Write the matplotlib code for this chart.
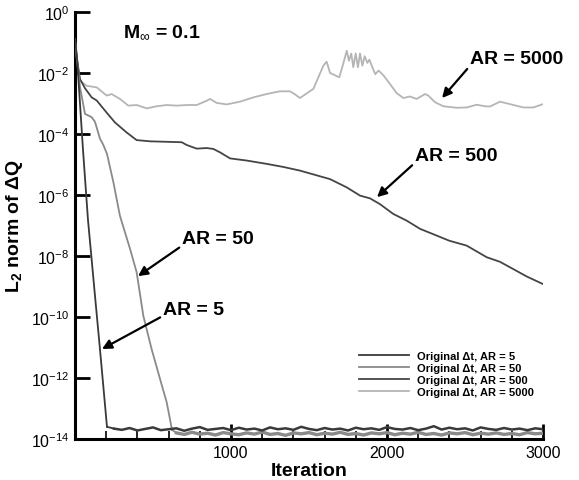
import numpy as np
import matplotlib
matplotlib.use("Agg")
import matplotlib.pyplot as plt
from matplotlib.ticker import FixedLocator, MultipleLocator, NullLocator, LogFormatterSciNotation

plt.rcParams['font.family'] = ['Liberation Sans', 'DejaVu Sans']
plt.rcParams['mathtext.fontset'] = 'custom'
plt.rcParams['mathtext.rm'] = 'Liberation Sans'
plt.rcParams['mathtext.bf'] = 'Liberation Sans:bold'
plt.rcParams['mathtext.it'] = 'Liberation Sans:italic'

# ---- data (iteration, log10 of L2 norm) ----
ar5_it = [0, 13, 51, 83, 128, 160, 205]
ar5_lg = [-0.9, -1.5, -4.5, -6.8, -9.3, -11.05, -13.6]
ar5_floor_it = list(range(250, 3001, 50))
ar5_floor_lg = [-13.66, -13.70, -13.64, -13.72, -13.67, -13.62, -13.71, -13.68, -13.65, -13.73,
                -13.66, -13.61, -13.70, -13.67, -13.64, -13.71, -13.63, -13.69, -13.66, -13.72,
                -13.62, -13.68, -13.65, -13.70, -13.60, -13.67, -13.71, -13.64, -13.69, -13.66,
                -13.72, -13.63, -13.68, -13.65, -13.70, -13.61, -13.67, -13.69, -13.64, -13.71,
                -13.66, -13.58, -13.69, -13.63, -13.68, -13.65, -13.72, -13.62, -13.67, -13.70,
                -13.64, -13.69, -13.66, -13.71, -13.65, -13.68]

ar50_it = [0, 11, 32, 64, 107, 128, 160, 181, 205, 246, 288, 353, 395, 438, 491, 545, 588, 622]
ar50_lg = [-0.9, -1.5, -2.46, -3.34, -3.45, -3.6, -4.15, -4.35, -4.65, -5.58, -6.68, -7.77,
           -8.53, -9.96, -11.05, -12.03, -12.8, -13.7]
ar50_floor_it = list(range(650, 3001, 50))
ar50_floor_lg = [-13.80, -13.85, -13.78, -13.84, -13.81, -13.87, -13.79, -13.83, -13.86, -13.80,
                 -13.84, -13.77, -13.85, -13.82, -13.88, -13.80, -13.83, -13.79, -13.86, -13.81,
                 -13.84, -13.78, -13.85, -13.82, -13.87, -13.80, -13.83, -13.79, -13.86, -13.81,
                 -13.84, -13.78, -13.85, -13.82, -13.87, -13.80, -13.83, -13.79, -13.86, -13.81,
                 -13.84, -13.80, -13.85, -13.82, -13.86, -13.79, -13.83, -13.81]

ar500_it = [0, 11, 32, 64, 107, 139, 171, 203, 256, 331, 395, 481, 684, 716, 780, 844, 887, 929,
            994, 1100, 1229, 1335, 1442, 1635, 1742, 1827, 1891, 1955, 2040, 2126, 2212, 2318,
            2400, 2511, 2639, 2724, 2810, 2895, 3000]
ar500_lg = [-0.9, -1.5, -2.2, -2.5, -2.8, -2.9, -3.1, -3.3, -3.62, -3.95, -4.2, -4.24, -4.27,
            -4.36, -4.48, -4.46, -4.49, -4.6, -4.8, -4.87, -4.98, -5.08, -5.2, -5.48, -5.75,
            -6.02, -6.11, -6.3, -6.62, -6.84, -7.11, -7.33, -7.5, -7.66, -8.04, -8.19, -8.43,
            -8.67, -8.92]

ar5000_it = [0, 11, 32, 75, 139, 203, 235, 288, 342, 395, 460, 524, 588, 652, 716, 780, 844, 865,
             908, 972, 1058, 1143, 1228, 1314, 1378, 1410, 1442, 1528, 1592, 1613, 1635, 1694,
             1716, 1742, 1756, 1771, 1784, 1799, 1814, 1827, 1842, 1857, 1874, 1887, 1902, 1925,
             1946, 1976, 2019, 2062, 2105, 2147, 2190, 2244, 2265, 2308, 2361, 2447, 2511, 2575,
             2628, 2660, 2724, 2788, 2874, 2938, 3000]
ar5000_lg = [-0.9, -1.5, -2.25, -2.42, -2.47, -2.74, -2.69, -2.85, -3.07, -3.05, -3.16, -3.09,
             -3.05, -3.07, -3.05, -3.05, -2.91, -2.85, -2.98, -3.03, -2.94, -2.8, -2.69, -2.6,
             -2.6, -2.7, -2.82, -2.52, -1.76, -1.63, -2.0, -2.14, -1.76, -1.27, -1.6, -1.36,
             -1.81, -1.36, -1.81, -1.36, -1.76, -1.45, -1.67, -1.56, -1.76, -2.04, -1.92, -2.07,
             -2.36, -2.66, -2.82, -2.77, -2.85, -2.69, -2.74, -2.96, -3.09, -3.14, -3.13, -3.04,
             -3.09, -3.1, -2.94, -3.02, -3.13, -3.13, -3.02]

labels = ['Original \u0394t, AR = 5', 'Original \u0394t, AR = 50',
          'Original \u0394t, AR = 500', 'Original \u0394t, AR = 5000']
colors = ['#3a3a3a', '#8a8a8a', '#454545', '#b5b5b5']

# annotations: (text, text position, arrow tip) in data coords (iteration, log10)
ann_text = ['AR = 5000', 'AR = 500', 'AR = 50', 'AR = 5']
ann_text_pos = [(2532, -1.54), (2179, -4.72), (686, -7.44), (564, -9.74)]
ann_tip = [(2353, -2.82), (1936, -6.07), (404, -8.66), (173, -11.05)]

fig = plt.figure(figsize=(5.79, 4.81), dpi=100)
ax = fig.add_axes([75/579, 41/481, 468/579, 427/481])

p = lambda v: 10.0 ** np.asarray(v)

ax.plot(ar5000_it, p(ar5000_lg), color=colors[3], lw=1.3, label=labels[3], zorder=2)
ax.plot(ar500_it, p(ar500_lg), color=colors[2], lw=1.3, label=labels[2], zorder=3)
ax.plot(ar50_it, p(ar50_lg), color=colors[1], lw=1.3, label=labels[1], zorder=3)
ax.plot(ar50_floor_it, p(ar50_floor_lg), color=colors[1], lw=2.4, zorder=3)
ax.plot([ar50_it[-1], ar50_floor_it[0]], p([ar50_lg[-1], ar50_floor_lg[0]]), color=colors[1], lw=1.3, zorder=3)
ax.plot(ar5_it, p(ar5_lg), color=colors[0], lw=1.3, label=labels[0], zorder=4)
ax.plot(ar5_floor_it, p(ar5_floor_lg), color=colors[0], lw=1.8, zorder=4)
ax.plot([ar5_it[-1], ar5_floor_it[0]], p([ar5_lg[-1], ar5_floor_lg[0]]), color=colors[0], lw=1.3, zorder=4)

ax.set_yscale('log')
ax.set_xlim(0, 3000)
ax.set_ylim(1e-14, 1)

ax.xaxis.set_major_locator(FixedLocator([1000, 2000, 3000]))
ax.xaxis.set_minor_locator(MultipleLocator(200))
ax.yaxis.set_major_locator(FixedLocator([10.0 ** k for k in range(-14, 1, 2)]))
ax.yaxis.set_major_formatter(LogFormatterSciNotation())
ax.yaxis.set_minor_locator(NullLocator())

for s in ['top', 'right']:
    ax.spines[s].set_visible(False)
for s in ['left', 'bottom']:
    ax.spines[s].set_linewidth(2.2)

ax.tick_params(axis='both', which='major', direction='in', length=11, width=2, labelsize=11.5, pad=4)
ax.tick_params(axis='x', which='minor', direction='in', length=6, width=1.2)

ax.set_xlabel('Iteration', fontsize=14, fontweight='bold', labelpad=2)
ax.set_ylabel(r'L$_\mathbf{2}$ norm of $\mathbf{\Delta}$Q', fontsize=14, fontweight='bold', labelpad=4)

ax.text(0.103, 0.955, r'M$_{\infty}$ = 0.1', transform=ax.transAxes, fontsize=14,
        fontweight='bold', va='center', ha='left')

for t, tp, tip in zip(ann_text, ann_text_pos, ann_tip):
    ax.annotate(t, xy=(tip[0], 10 ** tip[1]), xytext=(tp[0], 10 ** tp[1]),
                fontsize=14, fontweight='bold', ha='left', va='center',
                arrowprops=dict(arrowstyle='-|>', color='black', lw=1.6,
                                mutation_scale=14, shrinkA=0, shrinkB=0,
                                relpos=(0, 0.1)))

handles, labs = ax.get_legend_handles_labels()
order = [labs.index(l) for l in labels]
leg = ax.legend([handles[i] for i in order], [labs[i] for i in order],
                loc='upper left', bbox_to_anchor=(0.606, 0.207), frameon=False,
                prop={'weight': 'bold', 'size': 8}, handlelength=4.5,
                handletextpad=0.8, labelspacing=0.2, borderpad=0, borderaxespad=0)

fig.savefig('out.png', dpi=100)
